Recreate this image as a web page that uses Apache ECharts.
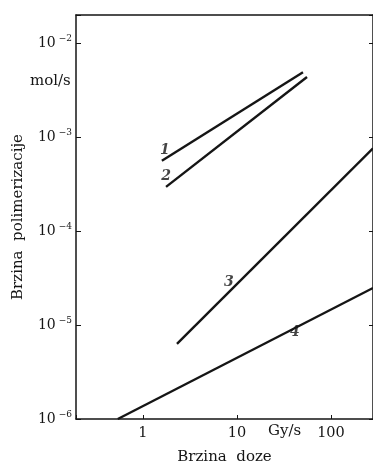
<!DOCTYPE html>
<html>
<head>
<meta charset="utf-8">
<script src="https://cdn.jsdelivr.net/npm/echarts@6/dist/echarts.min.js"></script>
<style>
  html, body { margin: 0; padding: 0; background: #fff; }
  #chart { width: 373px; height: 462px; }
</style>
</head>
<body>
<div id="chart"></div>
<script>
// brzina doze (Gy/s) i brzina polimerizacije (mol/s), ocitano sa slike
const line1 = [[1.59, 5.6e-4], [50.4, 4.9e-3]];
const line2 = [[1.76, 2.95e-4], [55.6, 4.35e-3]];
const line3 = [[2.3, 6.3e-6], [280, 7.6e-4]];
const line4 = [[0.54, 1e-6], [280, 2.48e-5]];
// oznake krivulja
const curveNames = ["1", "2", "3", "4"];
const curveLabelPos = [[1.71, 7.3e-4], [1.76, 3.85e-4], [8.2, 2.86e-5], [41.4, 8.4e-6]];
const xTicks = [1, 10, 100];
const yTicks = [1e-6, 1e-5, 1e-4, 1e-3, 1e-2];

const serif = "DejaVu Serif";
const ink = "#151515";

const chart = echarts.init(document.getElementById("chart"));

const isTick = (v, list) => list.some((t) => Math.abs(Math.log10(v) - Math.log10(t)) < 1e-6);

const lineSeries = (data) => ({
  type: "line",
  data: data,
  symbol: "none",
  lineStyle: { color: ink, width: 2.4 },
  silent: true,
});

chart.setOption({
  animation: false,
  grid: { left: 76, top: 15, right: 0, bottom: 43, containLabel: false, outerBoundsMode: "none" },
  xAxis: [
    {
      type: "log",
      logBase: 10,
      min: 0.194,
      max: 280,
      name: "Brzina  doze",
      nameLocation: "middle",
      nameGap: 31,
      nameTextStyle: { fontFamily: serif, fontSize: 15, color: ink, verticalAlign: "top" },
      axisLine: { lineStyle: { color: ink, width: 1.5 } },
      axisTick: { inside: true, length: 4, lineStyle: { color: ink } },
      splitLine: { show: false },
      minorTick: { show: false },
      axisLabel: {
        margin: 7,
        fontFamily: serif,
        fontSize: 14.5,
        color: ink,
        formatter: (v) => (isTick(v, xTicks) ? String(Math.round(v)) : ""),
      },
    },
    {
      type: "log",
      position: "top",
      min: 0.194,
      max: 280,
      axisLine: { lineStyle: { color: ink, width: 1.5 } },
      axisTick: { show: false },
      axisLabel: { show: false },
      splitLine: { show: false },
    },
  ],
  yAxis: [
    {
      type: "log",
      logBase: 10,
      min: 1e-6,
      max: 0.0199,
      name: "Brzina  polimerizacije",
      nameLocation: "middle",
      nameGap: 50,
      nameTextStyle: { fontFamily: serif, fontSize: 15, color: ink },
      axisLine: { lineStyle: { color: ink, width: 1.5 } },
      axisTick: { inside: true, length: 5, lineStyle: { color: ink } },
      splitLine: { show: false },
      axisLabel: {
        margin: 4,
        color: ink,
        formatter: (v) => {
          if (!isTick(v, yTicks)) return "";
          const e = Math.round(Math.log10(v));
          return "{b|10}{e|\u2212" + Math.abs(e) + "}";
        },
        rich: {
          b: { fontFamily: serif, fontSize: 14, color: ink },
          e: { fontFamily: serif, fontSize: 9, color: ink, padding: [0, 0, 8, 3] },
        },
      },
    },
    {
      type: "log",
      position: "right",
      min: 1e-6,
      max: 0.0199,
      axisLine: { lineStyle: { color: ink, width: 1.5 } },
      axisTick: { inside: true, length: 4, lineStyle: { color: ink } },
      axisLabel: { show: false },
      splitLine: { show: false },
    },
  ],
  graphic: [
    {
      type: "text",
      left: 30,
      top: 74,
      style: { text: "mol/s", fontFamily: serif, fontSize: 15, fill: ink },
    },
    {
      type: "text",
      left: 268,
      top: 424,
      style: { text: "Gy/s", fontFamily: serif, fontSize: 15, fill: ink },
    },
  ],
  series: [
    lineSeries(line1),
    lineSeries(line2),
    lineSeries(line3),
    lineSeries(line4),
    {
      type: "scatter",
      symbolSize: 0,
      silent: true,
      data: curveLabelPos.map((p, i) => ({ value: p, name: curveNames[i] })),
      label: {
        show: true,
        position: "inside",
        formatter: (p) => p.name,
        fontFamily: serif,
        fontStyle: "italic",
        fontWeight: "bold",
        fontSize: 14,
        color: ink,
      },
    },
  ],
});
</script>
</body>
</html>
